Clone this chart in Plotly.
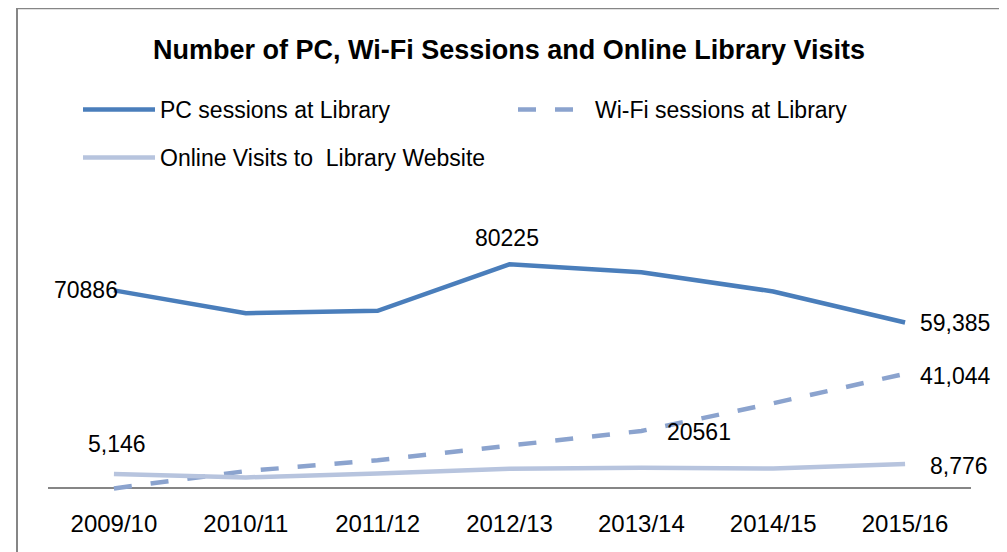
import plotly.graph_objects as go

# ---- data ----
years = ["2009/10", "2010/11", "2011/12", "2012/13", "2013/14", "2014/15", "2015/16"]
pc_sessions = [70886, 62700, 63600, 80225, 77400, 70500, 59385]
wifi_sessions = [0, 6200, 10100, 15300, 20561, 30500, 41044]
online_visits = [5146, 3950, 5300, 7050, 7400, 7100, 8776]

series_names = ["PC sessions at Library", "Wi-Fi sessions at Library", "Online Visits to  Library Website"]
colors = ["#4A7EBB", "#8BA3CE", "#B7C4DE"]

# page body has an 8px default margin; compensate so the picture lines up
OFF = 8
W, H = 1007 - OFF, 552 - OFF
FONT = "Liberation Sans, Arial, sans-serif"

# plot-area geometry (pixels in the window, converted to figure pixels)
left_px, right_px = 48 - OFF, 971 - OFF
y_min, y_max = -2000, 90000
zero_px = 488 - OFF
px_per_unit = 198 / 70886
bottom_px = zero_px - y_min * px_per_unit
top_px = zero_px - y_max * px_per_unit

fig = go.Figure()
fig.add_trace(go.Scatter(x=years, y=pc_sessions, name=series_names[0], mode="lines",
                         line=dict(color=colors[0], width=4.5), legend="legend"))
fig.add_trace(go.Scatter(x=years, y=wifi_sessions, name=series_names[1], mode="lines",
                         line=dict(color=colors[1], width=4.5, dash="18px,19px"), legend="legend"))
fig.add_trace(go.Scatter(x=years, y=online_visits, name=series_names[2], mode="lines",
                         line=dict(color=colors[2], width=4.5), legend="legend2"))

def fmt(v, comma):
    return f"{v:,}" if comma else f"{v}"

# data labels: (series values, index, xanchor, xshift, yshift, comma format)
labels = [
    (pc_sessions, 0, "right", 6, 0, False),
    (pc_sessions, 3, "center", -3, 26, False),
    (pc_sessions, 6, "left", 13, 0, True),
    (wifi_sessions, 4, "left", 24, -1, False),
    (wifi_sessions, 6, "left", 13, -2, True),
    (online_visits, 0, "center", 3, 30, True),
    (online_visits, 6, "left", 23, -2, True),
]
for vals, i, xa, xs, ys, comma in labels:
    fig.add_annotation(x=years[i], y=vals[i], text=fmt(vals[i], comma), showarrow=False,
                       xanchor=xa, yanchor="middle", xshift=xs, yshift=ys,
                       font=dict(family=FONT, size=23, color="#000000"))

plot_h = bottom_px - top_px
plot_w = right_px - left_px

def px_to_paper_x(px):
    return (px - OFF - left_px) / plot_w

def px_to_paper_y(py):
    return (bottom_px - (py - OFF)) / plot_h

# outer chart border
fig.add_shape(type="rect", xref="paper", yref="paper",
              x0=px_to_paper_x(17), x1=px_to_paper_x(1000),
              y0=px_to_paper_y(620), y1=px_to_paper_y(8),
              line=dict(color="#868686", width=2), fillcolor="rgba(0,0,0,0)", layer="below")

fig.update_layout(
    width=W, height=H,
    margin=dict(l=left_px, r=W - right_px, t=top_px, b=H - bottom_px, autoexpand=False),
    paper_bgcolor="white", plot_bgcolor="white",
    title=dict(text="<b>Number of PC, Wi-Fi Sessions and Online Library Visits</b>",
               xref="container", yref="container", x=(509 - OFF) / W, y=1 - (50 - OFF) / H,
               xanchor="center", yanchor="middle",
               font=dict(family=FONT, size=27, color="#000000")),
    legend=dict(orientation="h", xref="container", yref="container",
                x=(78 - OFF) / W, y=1 - (88 - OFF) / H, xanchor="left", yanchor="top",
                font=dict(family=FONT, size=23, color="#000000"),
                itemwidth=72, entrywidth=348, bgcolor="rgba(0,0,0,0)"),
    legend2=dict(orientation="h", xref="container", yref="container",
                 x=(78 - OFF) / W, y=1 - (136 - OFF) / H, xanchor="left", yanchor="top",
                 font=dict(family=FONT, size=23, color="#000000"),
                 itemwidth=72, bgcolor="rgba(0,0,0,0)"),
    xaxis=dict(type="category", range=[-0.5, 6.5], showline=False, showgrid=False,
               ticks="outside", ticklen=8, tickcolor="rgba(0,0,0,0)",
               tickfont=dict(family=FONT, size=24, color="#000000")),
    yaxis=dict(range=[y_min, y_max], showgrid=False, showline=False, showticklabels=False,
               zeroline=True, zerolinecolor="#868686", zerolinewidth=1.5),
)

fig.write_html("out.html")
